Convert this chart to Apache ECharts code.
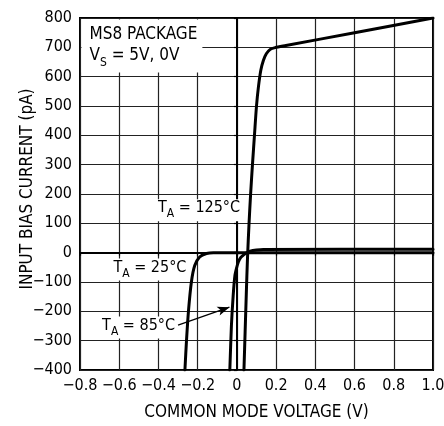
<!DOCTYPE html>
<html>
<head>
<meta charset="utf-8">
<script src="https://cdn.jsdelivr.net/npm/echarts@6/dist/echarts.min.js"></script>
<style>
html,body{margin:0;padding:0;background:#fff;}
#chart{width:444px;height:426px;}
</style>
</head>
<body>
<div id="chart"></div>
<script>
// ---- data ----
const xTickLabels = ['\u22120.8','\u22120.6','\u22120.4','\u22120.2','0','0.2','0.4','0.6','0.8','1.0'];
const yTickLabels = ['\u2212400','\u2212300','\u2212200','\u2212100','0','100','200','300','400','500','600','700','800'];

const v25 = [-0.265, -0.257, -0.247, -0.232, -0.215, -0.19, -0.155, -0.12, 1.0];
const i25 = [-400, -300, -200, -100, -44, -15, -3, 0, 0];

const v85 = [-0.036, -0.028, -0.019, -0.010, 0.000, 0.007, 0.020, 0.032, 0.050, 0.067, 0.100, 0.135, 1.0];
const i85 = [-400, -250, -147, -78, -48, -32, -16, -9, 0, 5, 9, 11, 12];

const v125 = [0.036, 0.042, 0.048, 0.054, 0.062, 0.070, 0.080, 0.090, 0.100, 0.110, 0.122, 0.135, 0.150, 0.170, 0.195, 0.25, 0.6, 1.0];
const i125 = [-400, -270, -140, -20, 100, 200, 306, 404, 500, 566, 622, 655, 678, 693, 699, 706, 750, 800];

const noteX = [-0.8, -0.415, -0.642, -0.70];
const noteY = [800, 145, -57, -255];
const noteText = [
  '{b|MS8 PACKAGE}\n{b|V}{s|S}{b| = 5V, 0V}',
  '{m|T}{s|A}{m| = 125\u00B0C}',
  '{m|T}{s|A}{m| = 25\u00B0C}',
  '{m|T}{s|A}{m| = 85\u00B0C}'
];
const arrowFrom = [-0.30, -247];
const arrowTo = [-0.038, -186];

// ---- chart ----
const FONT = '"DejaVu Sans Condensed", "Liberation Sans Narrow", sans-serif';
const zip = (a, b) => a.map((v, i) => [v, b[i]]);
const rich = {
  b: {fontFamily: FONT, fontSize: 17, color: '#000', lineHeight: 21, verticalAlign: 'top'},
  m: {fontFamily: FONT, fontSize: 16, color: '#000', lineHeight: 20, verticalAlign: 'top'},
  s: {fontFamily: FONT, fontSize: 12, color: '#000', lineHeight: 13, padding: [8, 0, 0, 0], verticalAlign: 'bottom'}
};

const chart = echarts.init(document.getElementById('chart'), null, {renderer: 'canvas'});
const lineBase = {
  type: 'line', symbol: 'none', smooth: 0.25,
  lineStyle: {color: '#000', width: 3, cap: 'round', join: 'round'},
  silent: true, z: 3
};
const noteData = noteX.map((x, i) => {
  const d = {value: [x, noteY[i]], label: {formatter: noteText[i]}};
  if (i === 0) {
    d.label.position = [2, 2];
    d.label.padding = [7, 5, 4, 8];
  } else {
    d.label.position = 'right';
    d.label.distance = 0;
    d.label.padding = [1, 3, 1, 2];
  }
  return d;
});

chart.setOption({
  animation: false,
  backgroundColor: '#fff',
  grid: {left: 80, right: 11, top: 18, bottom: 56, containLabel: false, outerBoundsMode: 'none',
         show: true, borderColor: '#000', borderWidth: 2, backgroundColor: 'transparent'},
  xAxis: {
    type: 'value', min: -0.8, max: 1.0, interval: 0.2,
    axisLine: {show: true, lineStyle: {color: '#000', width: 2}},
    axisTick: {show: true, length: 3, lineStyle: {color: '#000', width: 1.2}},
    splitLine: {show: true, lineStyle: {color: '#222', width: 1.2}},
    axisLabel: {
      color: '#000', fontFamily: FONT, fontSize: 16, margin: 8,
      formatter: v => xTickLabels[Math.round((v + 0.8) / 0.2)]
    },
    name: 'COMMON MODE VOLTAGE (V)', nameLocation: 'middle', nameGap: 34, nameMoveOverlap: false,
    nameTextStyle: {color: '#000', fontFamily: FONT, fontSize: 17}
  },
  yAxis: {
    type: 'value', min: -400, max: 800, interval: 100,
    axisLine: {show: true, lineStyle: {color: '#000', width: 2}},
    axisTick: {show: true, length: 3, lineStyle: {color: '#000', width: 1.2}},
    splitLine: {show: true, lineStyle: {color: '#222', width: 1.2}},
    axisLabel: {
      color: '#000', fontFamily: FONT, fontSize: 16, margin: 8,
      formatter: v => yTickLabels[Math.round((v + 400) / 100)]
    },
    name: 'INPUT BIAS CURRENT (pA)', nameLocation: 'middle', nameGap: 44, nameMoveOverlap: false,
    nameTextStyle: {color: '#000', fontFamily: FONT, fontSize: 17, padding: [0, 0, 0, 10]}
  },
  series: [
    {
      type: 'scatter', name: 'notes', symbolSize: 1, silent: true, z: 2,
      itemStyle: {color: 'rgba(0,0,0,0)', opacity: 1},
      label: {show: true, backgroundColor: '#fff', rich: rich, color: '#000', opacity: 1},
      data: noteData
    },
    Object.assign({}, lineBase, {name: '25C', data: zip(v25, i25)}),
    Object.assign({}, lineBase, {name: '85C', data: zip(v85, i85),
      markLine: {
        silent: true, symbol: ['none', 'arrow'], symbolSize: [7, 12],
        lineStyle: {color: '#000', width: 1.3, type: 'solid'},
        label: {show: false}, emphasis: {disabled: true},
        data: [[{coord: arrowFrom}, {coord: arrowTo}]]
      }
    }),
    Object.assign({}, lineBase, {name: '125C', data: zip(v125, i125)})
  ]
});
</script>
</body>
</html>
